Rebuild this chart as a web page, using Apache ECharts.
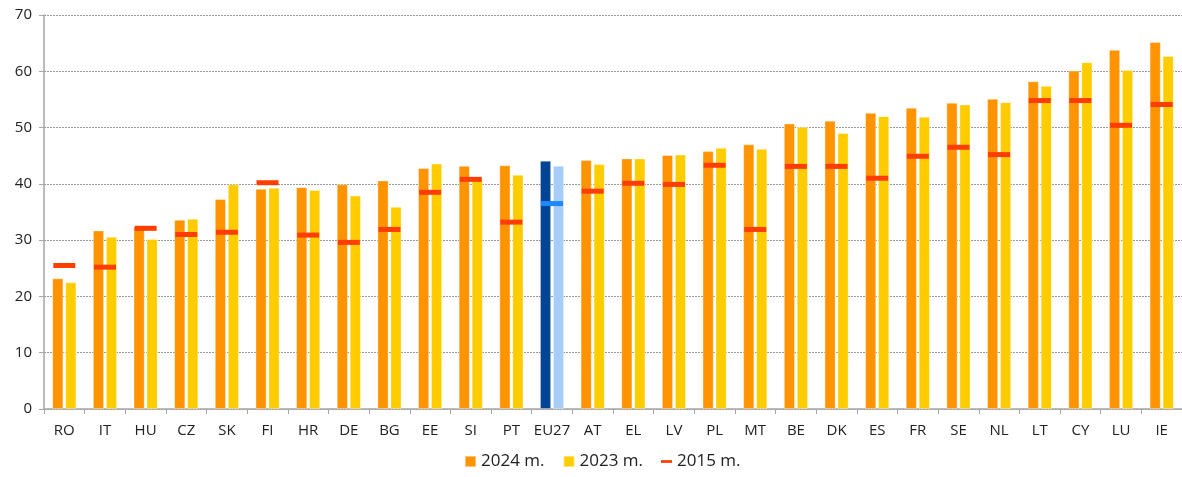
<!doctype html>
<html>
<head>
<meta charset="UTF-8">
<title></title>
<style>
  html, body { margin: 0; padding: 0; background: #fff; }
  #chart { width: 1182px; height: 477px; }
</style>
</head>
<body>
<div id="chart"></div>
<script src="https://cdn.jsdelivr.net/npm/echarts@6/dist/echarts.min.js"></script>
<script>
var countries = ['RO','IT','HU','CZ','SK','FI','HR','DE','BG','EE','SI','PT','EU27','AT','EL','LV','PL','MT','BE','DK','ES','FR','SE','NL','LT','CY','LU','IE'];
var y2024 = [23.2,31.7,32.3,33.6,37.3,39.1,39.4,39.9,40.6,42.8,43.2,43.3,44.1,44.2,44.5,45.1,45.8,47.0,50.7,51.2,52.6,53.5,54.4,55.1,58.2,60.1,63.8,65.2];
var y2023 = [22.5,30.6,30.2,33.8,39.9,39.3,38.9,37.9,35.9,43.6,40.7,41.6,43.2,43.5,44.5,45.2,46.4,46.2,50.1,49.0,52.0,51.9,54.1,54.5,57.4,61.6,60.2,62.7];
var y2015 = [25.5,25.2,32.1,31.0,31.4,40.2,30.9,29.6,31.9,38.5,40.8,33.2,36.5,38.7,40.1,39.9,43.3,31.9,43.1,43.1,41.0,44.9,46.5,45.2,54.8,54.8,50.4,54.1];
var yTicks = [0,10,20,30,40,50,60,70];

var C24 = '#ff9300', C23 = '#ffcc00', C15 = '#ff3d00';
var EU24 = '#004494', EU23 = '#a6cdfa', EU15 = '#1e88ff';

function withEu(vals, euColor) {
  return vals.map(function (v, i) {
    if (countries[i] === 'EU27') return { value: v, itemStyle: { color: euColor } };
    return v;
  });
}

var chart = echarts.init(document.getElementById('chart'));
var font = '"Open Sans", "Noto Sans", sans-serif';

chart.setOption({
  animation: false,
  textStyle: { fontFamily: font },
  grid: { left: 44, right: -7, top: 15, bottom: 68, containLabel: false },
  legend: {
    bottom: 2,
    left: 459,
    itemWidth: 11,
    itemHeight: 11,
    itemGap: 18,
    textStyle: { fontSize: 17, color: '#222', fontFamily: font },
    data: [
      { name: '2024 m.', icon: 'rect' },
      { name: '2023 m.', icon: 'rect' },
      { name: '2015 m.', icon: 'path://M0,0M0,4.5H12V7.5H0ZM12,12' }
    ]
  },
  xAxis: {
    type: 'category',
    data: countries,
    axisLine: { lineStyle: { color: '#a6a6a6', width: 1.5 } },
    axisTick: { show: true, interval: 0, length: 5, lineStyle: { color: '#a6a6a6' } },
    axisLabel: { interval: 0, fontSize: 15, color: '#222', margin: 14 }
  },
  yAxis: {
    type: 'value',
    min: yTicks[0],
    max: yTicks[yTicks.length - 1],
    interval: 10,
    axisLine: { show: true, lineStyle: { color: '#a6a6a6', width: 1.5 } },
    axisTick: { show: true, length: 5, lineStyle: { color: '#a6a6a6' } },
    axisLabel: { fontSize: 15, color: '#222', margin: 12 },
    splitLine: { lineStyle: { color: '#9a9a9a', type: [2, 1], width: 1 } }
  },
  series: [
    {
      name: '2024 m.',
      type: 'bar',
      data: withEu(y2024, EU24),
      barWidth: 11,
      barGap: '18%',
      itemStyle: { color: C24, borderColor: 'rgba(255,255,255,0.45)', borderWidth: 0.8 }
    },
    {
      name: '2023 m.',
      type: 'bar',
      data: withEu(y2023, EU23),
      barWidth: 11,
      itemStyle: { color: C23, borderColor: 'rgba(255,255,255,0.45)', borderWidth: 0.8 }
    },
    {
      name: '2015 m.',
      type: 'scatter',
      data: withEu(y2015, EU15),
      symbol: 'rect',
      symbolSize: [22, 5],
      itemStyle: { color: C15, opacity: 1 },
      z: 5
    }
  ]
});
</script>
</body>
</html>
